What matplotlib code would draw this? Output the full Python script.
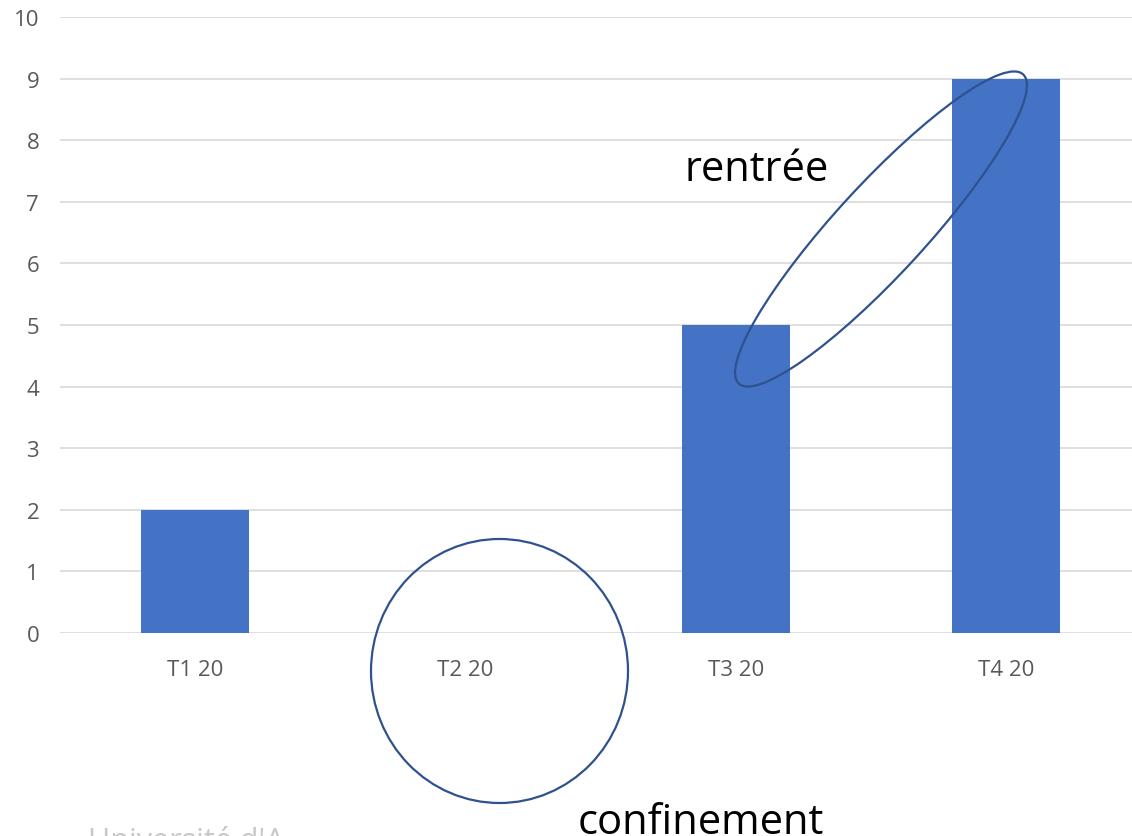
import matplotlib
matplotlib.use("Agg")
import matplotlib.pyplot as plt
from matplotlib.patches import Ellipse

# data
quarters = ["T1 20", "T2 20", "T3 20", "T4 20"]
counts = [2, 0, 5, 9]
y_ticks = list(range(0, 11))

BAR_COLOR = "#4472c4"
GRID_COLOR = "#d9d9d9"
TICK_COLOR = "#595959"
SHAPE_COLOR = "#2f528f"

plt.rcParams["font.family"] = ["Open Sans", "DejaVu Sans"]

fig = plt.figure(figsize=(11.32, 8.37), dpi=100)
# plot area runs a bit past the right edge, like the cropped slide
ax = fig.add_axes([60 / 1132, 203 / 837, 1081 / 1132, 616 / 837])

x = range(len(quarters))
ax.bar(x, counts, width=0.4, color=BAR_COLOR, zorder=2)

ax.set_xlim(-0.5, len(quarters) - 0.5)
ax.set_ylim(0, 10)
ax.set_yticks(y_ticks)
ax.set_xticks(list(x))
ax.set_xticklabels(quarters)
ax.tick_params(axis="y", length=0, pad=15, labelsize=16, labelcolor=TICK_COLOR)
ax.tick_params(axis="x", length=0, pad=19, labelsize=16, labelcolor=TICK_COLOR)
ax.grid(axis="y", color=GRID_COLOR, linewidth=1.2, zorder=0)
for s in ax.spines.values():
    s.set_visible(False)

# hand-drawn annotations (positions in inches from bottom-left)
circle = Ellipse((4.995, 1.65), 2.57, 2.64, fill=False, edgecolor=SHAPE_COLOR,
                 linewidth=1.6, transform=fig.dpi_scale_trans, clip_on=False)
fig.add_artist(circle)
oval = Ellipse((8.81, 6.07), 4.2, 0.9, angle=47.4, fill=False, edgecolor=SHAPE_COLOR,
               linewidth=1.6, transform=fig.dpi_scale_trans, clip_on=False)
fig.add_artist(oval)

fig.text(6.85 / 11.32, 6.67 / 8.37, "rentrée", fontsize=30, color="black",
         ha="left", va="center")
fig.text(5.78 / 11.32, 0.03 / 8.37, "confinement", fontsize=30, color="black",
         ha="left", va="baseline")
fig.text(0.88 / 11.32, -0.05 / 8.37, "Université d'A", fontsize=22, color="#c8c8c8",
         ha="left", va="center")

fig.savefig("out.png", dpi=100)
